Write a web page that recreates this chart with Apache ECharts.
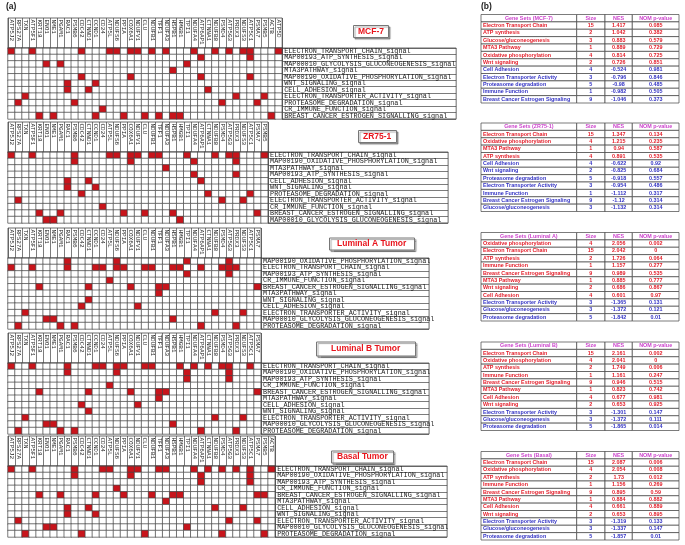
<!DOCTYPE html>
<html>
<head>
<meta charset="utf-8">
<script src="https://cdn.jsdelivr.net/npm/echarts@6/dist/echarts.min.js"></script>
<style>
  html,body{margin:0;padding:0;background:#fff;}
  #main{width:685px;height:545px;}
</style>
</head>
<body>
<div id="main"></div>
<script>
// gene columns, left to right (each panel shows the first n)
var genes = ['ATP5J2','RPS27A','TXN','ATP5F1','KRT18','ENO1','NME1','PGAM1','RAC1','PSMB6',
  'CDC42','CTNND1','CCND1','CD24','ATP5L','NDUFS6','PPIA','COX6A1','NDUFV1','CLU',
  'NDUFB1','TFF1','NDUFA3','HSPB1','HMGB1','TPI1','NDUFA4','ATP6AP1','CTNNA1','NDUFB8',
  'PSMD4','ATP5G3','PRDX3','NDUFS3','ATP5C1','PSMA7','PSMB5','ACTB','ATP5D'];

// gene set keys -> row label / table label
var setSignal = {
  ETC:'ELECTRON_TRANSPORT_CHAIN_signal', ATP:'MAP00193_ATP_SYNTHESIS_signal',
  GLY:'MAP00010_GLYCOLYSIS_GLUCONEOGENESIS_signal', MTA:'MTA3PATHWAY_signal',
  OXP:'MAP00190_OXIDATIVE_PHOSPHORYLATION_signal', WNT:'WNT_SIGNALING_signal',
  ADH:'CELL_ADHESION_signal', ETA:'ELECTRON_TRANSPORTER_ACTIVITY_signal',
  PRO:'PROTEASOME_DEGRADATION_signal', IMM:'CR_IMMUNE_FUNCTION_signal',
  BRC:'BREAST_CANCER_ESTROGEN_SIGNALLING_signal'
};
var setName = {
  ETC:'Electron Transport Chain', ATP:'ATP synthesis', GLY:'Glucose/gluconeogenesis',
  MTA:'MTA3 Pathway', OXP:'Oxidative phosphorylation', WNT:'Wnt signaling',
  ADH:'Cell Adhesion', ETA:'Electron Transporter Activity', PRO:'Proteasome degradation',
  IMM:'Immune Function', BRC:'Breast Cancer Estrogen Signaling'
};

// MCF-7
var mcfOrder = ['ETC','ATP','GLY','MTA','OXP','WNT','ADH','ETA','PRO','IMM','BRC'];
var mcfHits = [[0,3,10,14,15,17,18,20,22,26,29,31,33,34,38],[27,34],[5,7,25],[23],[10,17,27,34],
  [8,12],[8,11,28],[2,32,36],[1,9,30,35],[13],[4,6,12,16,19,21,23,24,37]];
var mcfSize = [15,2,3,1,4,2,4,3,5,1,9];
var mcfNes = [1.417,1.042,0.883,0.889,0.814,0.726,-0.524,-0.796,-0.98,-0.982,-1.046];
var mcfP = [0.085,0.382,0.579,0.729,0.725,0.851,0.981,0.846,0.485,0.505,0.373];

// ZR75-1
var zrOrder = ['ETC','OXP','MTA','ATP','ADH','WNT','PRO','ETA','IMM','BRC','GLY'];
var zrHits = [[0,3,9,14,15,17,18,20,21,25,29,31,32,36],[9,17,26,32],[22],[26,32],[8,11,27],
  [8,12],[10,28,34],[1,30,33],[13],[4,7,16,19,23,35],[5,6,24]];
var zrSize = [15,4,1,4,4,2,5,3,1,9,3];
var zrNes = [1.347,1.215,0.94,0.891,-0.622,-0.825,-0.918,-0.954,-1.112,-1.12,-1.132];
var zrP = [0.134,0.235,0.587,0.535,0.92,0.684,0.557,0.486,0.317,0.314,0.314];

// Luminal A
var lumAOrder = ['OXP','ETC','ATP','IMM','BRC','MTA','WNT','ADH','ETA','GLY','PRO'];
var lumAHits = [[8,15,25,31],[0,3,8,12,13,15,16,19,20,23,24,27,30,31,32],[25,31],[14],
  [4,11,17,21,22,35],[21],[11],[10,18],[2,29,33],[5,6,23],[1,7,9,27,32]];
var lumASize = [4,15,2,1,9,1,2,4,3,3,5];
var lumANes = [2.056,2.042,1.726,1.157,0.989,0.885,0.686,0.601,-1.365,-1.372,-1.842];
var lumAP = [0.002,0,0.064,0.277,0.535,0.777,0.867,0.97,0.131,0.121,0.01];

// Luminal B
var lumBOrder = ['ETC','OXP','ATP','IMM','BRC','MTA','ADH','WNT','ETA','GLY','PRO'];
var lumBHits = [[0,3,8,12,13,15,16,19,20,24,26,28,30,31,34],[8,15,25,31],[25,31],[14],
  [4,11,17,21,22,35],[21],[10,18],[11],[2,29,33],[5,6,23],[1,7,9,27,32]];
var lumBSize = [15,4,2,1,9,1,4,2,3,3,5];
var lumBNes = [2.161,2.041,1.749,1.161,0.946,0.823,0.677,0.653,-1.301,-1.372,-1.865];
var lumBP = [0.002,0,0.006,0.247,0.515,0.742,0.981,0.925,0.147,0.111,0.014];

// Basal
var basalOrder = ['ETC','OXP','ATP','IMM','BRC','MTA','ADH','WNT','ETA','GLY','PRO'];
var basalHits = [[0,3,9,13,14,17,18,21,22,26,28,30,32,34,37],[9,17,27,34],[27,34],[15],
  [4,7,12,16,20,23,24,35,36],[22],[8,11,29,33],[8,12],[1,31,35],[5,6,25],[2,10,19,30,36]];
var basalSize = [15,4,2,1,9,1,4,2,3,3,5];
var basalNes = [2.087,2.054,1.73,1.156,0.895,0.884,0.661,0.653,-1.319,-1.337,-1.857];
var basalP = [0.006,0.008,0.012,0.269,0.59,0.882,0.889,0.895,0.133,0.147,0.01];

var panels = [
  {title:'MCF-7', tag:'MCF-7', n:39, order:mcfOrder, hits:mcfHits, size:mcfSize, nes:mcfNes, p:mcfP},
  {title:'ZR75-1', tag:'ZR75-1', n:37, order:zrOrder, hits:zrHits, size:zrSize, nes:zrNes, p:zrP},
  {title:'Luminal A Tumor', tag:'Luminal A', n:36, order:lumAOrder, hits:lumAHits, size:lumASize, nes:lumANes, p:lumAP},
  {title:'Luminal B Tumor', tag:'Luminal B', n:36, order:lumBOrder, hits:lumBHits, size:lumBSize, nes:lumBNes, p:lumBP},
  {title:'Basal Tumor', tag:'Basal', n:38, order:basalOrder, hits:basalHits, size:basalSize, nes:basalNes, p:basalP}
];

// layout
var CW = 7.03, CH = 6.45, LH = 30, GX = 8;
var layout = [
  {top:48,  box:174, font:6.8, tx:353, ty:25,  pad:[2,5],    tbl:14.5},
  {top:152, box:180, font:6.8, tx:358, ty:130, pad:[2,5],    tbl:123},
  {top:258, box:168, font:6.8, tx:329, ty:238, pad:[1.5,8],  tbl:232.5},
  {top:363, box:168, font:6.8, tx:316, ty:342, pad:[2.5,15], tbl:342},
  {top:466, box:172, font:6.8, tx:331, ty:451, pad:[1.5,6],  tbl:451.5}
];
var TX = 481, TW = 198, TH = 88.5;
var colEdges = [0, 95.7, 124, 151.3, 198];
var lineCol = '#444';

var grids = [], xAxes = [], yAxes = [], series = [], titles = [], graphics = [], heatIdx = [];

titles.push({text:'(a)', left:6, top:2, padding:0,
  textStyle:{fontSize:8.5, fontWeight:'bold', fontFamily:'Liberation Sans', color:'#222'}});
titles.push({text:'(b)', left:481, top:2, padding:0,
  textStyle:{fontSize:8.5, fontWeight:'bold', fontFamily:'Liberation Sans', color:'#222'}});

panels.forEach(function (pn, i) {
  var L = layout[i];
  var w = pn.n * CW, h = pn.order.length * CH;
  var g = grids.length;

  // heatmap grid
  grids.push({left:GX, top:L.top, width:w, height:h, outerBoundsMode:'none'});
  xAxes.push({
    gridIndex:g, type:'category', position:'top', data:genes.slice(0, pn.n),
    axisLine:{show:true, lineStyle:{color:lineCol, width:0.8}},
    axisTick:{show:true, length:LH, lineStyle:{color:lineCol, width:0.7}},
    axisLabel:{interval:0, rotate:90, align:'left', verticalAlign:'middle', margin:LH - 1.5,
      fontSize:6, fontFamily:'Liberation Mono', color:'#222'},
    splitLine:{show:false}
  });
  yAxes.push({
    gridIndex:g, type:'category', inverse:true, position:'right',
    data:pn.order.map(function (k) { return setSignal[k]; }),
    axisLine:{show:true, lineStyle:{color:lineCol, width:0.8}},
    axisTick:{show:true, length:L.box, lineStyle:{color:lineCol, width:0.7}},
    axisLabel:{interval:0, margin:2, fontSize:L.font, fontFamily:'Liberation Mono', color:'#222'},
    splitLine:{show:false}
  });
  var cells = [];
  pn.order.forEach(function (k, r) {
    for (var c = 0; c < pn.n; c++) {
      cells.push([c, r, pn.hits[r].indexOf(c) >= 0 ? 1 : 0]);
    }
  });
  heatIdx.push(series.length);
  series.push({
    type:'heatmap', xAxisIndex:g, yAxisIndex:g, data:cells, silent:true,
    itemStyle:{borderColor:lineCol, borderWidth:0.7},
    emphasis:{disabled:true}
  });
  // frames of the label boxes
  graphics.push({type:'rect', silent:true, z:10,
    shape:{x:GX, y:L.top - LH, width:w, height:LH},
    style:{fill:null, stroke:lineCol, lineWidth:0.8}});
  graphics.push({type:'rect', silent:true, z:10,
    shape:{x:GX + w, y:L.top, width:L.box, height:h},
    style:{fill:null, stroke:lineCol, lineWidth:0.8}});

  titles.push({
    text:pn.title, left:L.tx, top:L.ty, padding:L.pad,
    borderColor:'#777', borderWidth:1, backgroundColor:'#fff',
    shadowColor:'rgba(0,0,0,0.35)', shadowOffsetX:1.5, shadowOffsetY:1.5, shadowBlur:1,
    textStyle:{color:'#e8141c', fontSize:8.5, fontWeight:'bold', fontFamily:'Liberation Sans'}
  });

  // table grid
  var tg = grids.length;
  grids.push({left:TX, top:L.tbl, width:TW, height:TH, outerBoundsMode:'none'});
  xAxes.push({gridIndex:tg, type:'value', min:0, max:TW, show:false});
  var rowsCat = [];
  for (var r = 0; r <= pn.order.length; r++) rowsCat.push(String(r));
  yAxes.push({gridIndex:tg, type:'category', inverse:true, data:rowsCat, show:false});
  var rows = rowsCat.map(function (s, r) { return [0, r]; });
  series.push({
    type:'custom', xAxisIndex:tg, yAxisIndex:tg, data:rows, silent:true,
    renderItem:function (params, api) {
      var r = api.value(1);
      var mid = api.coord([0, r])[1];
      var bh = api.size([0, 1])[1];
      var y0 = mid - bh / 2;
      var texts, color;
      if (r === 0) {
        texts = ['Gene Sets (' + pn.tag + ')', 'Size', 'NES', 'NOM p-value'];
        color = '#cc44cc';
      } else {
        var k = r - 1;
        texts = [setName[pn.order[k]], String(pn.size[k]), String(pn.nes[k]), String(pn.p[k])];
        color = pn.nes[k] > 0 ? '#e3202c' : '#3434c4';
      }
      var kids = [];
      for (var c = 0; c < 4; c++) {
        var x0 = api.coord([colEdges[c], r])[0];
        var x1 = api.coord([colEdges[c + 1], r])[0];
        kids.push({type:'rect', shape:{x:x0, y:y0, width:x1 - x0, height:bh},
          style:{fill:'#fff', stroke:lineCol, lineWidth:0.7}});
        var left = (c === 0 && r > 0);
        kids.push({type:'text', z2:5, style:{
          text:texts[c], x:left ? x0 + 2 : (x0 + x1) / 2, y:mid,
          align:left ? 'left' : 'center', textAlign:left ? 'left' : 'center',
          verticalAlign:'middle', textVerticalAlign:'middle',
          font:'bold 5.4px "Liberation Sans"', fill:color}});
      }
      return {type:'group', children:kids};
    }
  });
});

var chart = echarts.init(document.getElementById('main'), null, {renderer:'canvas'});
chart.setOption({
  backgroundColor:'#fff',
  animation:false,
  title:titles,
  grid:grids,
  xAxis:xAxes,
  yAxis:yAxes,
  visualMap:{
    type:'piecewise', show:false, dimension:2, seriesIndex:heatIdx,
    pieces:[{value:0, color:'#ffffff'}, {value:1, color:'#c8141b'}]
  },
  graphic:graphics,
  series:series
});
</script>
</body>
</html>
